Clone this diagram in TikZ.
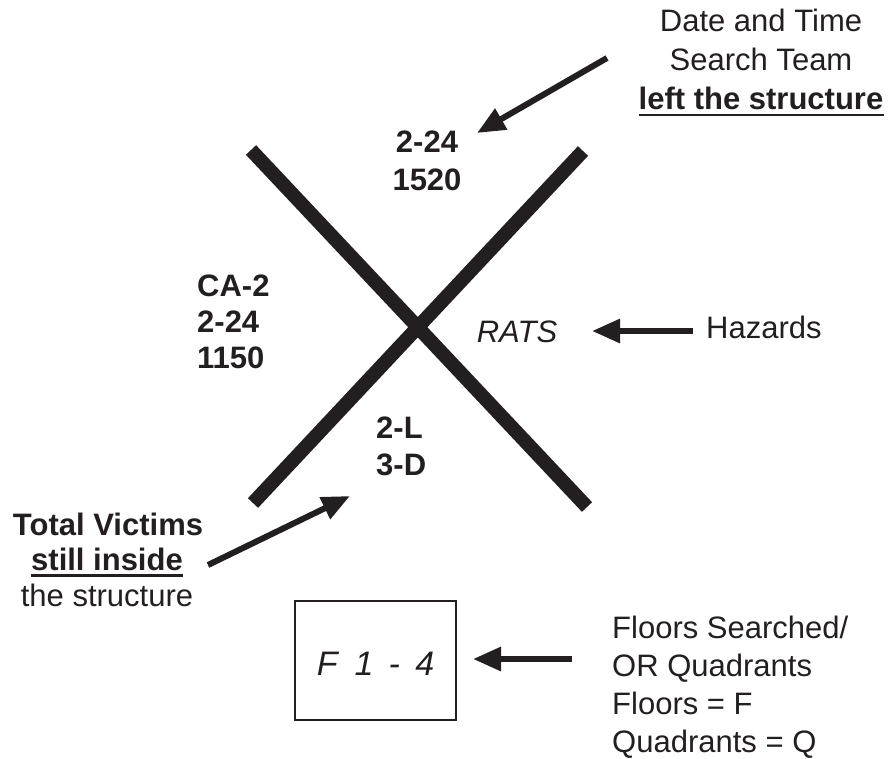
\documentclass[tikz,border=0pt]{standalone}
\usepackage{fontspec}
\setmainfont{Liberation Sans}
\usetikzlibrary{arrows.meta}
\definecolor{ink}{HTML}{231F20}
\newcommand\bigtxt{\fontsize{31}{38}\selectfont}
\begin{document}
\begin{tikzpicture}[x=1pt,y=-1pt,
  lbl/.style={inner sep=0pt,font=\bigtxt,text=ink},
  blbl/.style={lbl,font=\bigtxt\bfseries},
  ilbl/.style={lbl,font=\bigtxt\itshape},
  xbar/.style={draw=ink,line width=14pt,line cap=butt},
  pointer/.style={draw=ink,line width=6pt,-{Triangle[length=28pt,width=23pt]}},
  uline/.style={draw=ink,line width=2.5pt}]
\useasboundingbox (0,0) rectangle (890,758);
% the X
\coordinate (x1a) at (251,150);
\coordinate (x1b) at (587,507);
\coordinate (x2a) at (583,151);
\coordinate (x2b) at (253,503);
\draw[xbar] (x1a) -- (x1b);
\draw[xbar] (x2a) -- (x2b);
% top right
\node[lbl,anchor=base] (dt1) at (761,31) {Date and Time};
\node[lbl,anchor=base] (dt2) at (761,70) {Search Team};
\node[blbl,anchor=base] (dt3) at (761,109) {left the structure};
\draw[uline] ([yshift=-6pt]dt3.base west) -- ([yshift=-6pt]dt3.base east);
% top quadrant
\node[blbl,anchor=base] (tq1) at (427,152) {2-24};
\node[blbl,anchor=base] (tq2) at (427,190) {1520};
% left quadrant
\node[blbl,anchor=base west] (lq1) at (197,296) {CA-2};
\node[blbl,anchor=base west] (lq2) at (197,332) {2-24};
\node[blbl,anchor=base west] (lq3) at (197,368) {1150};
% right quadrant
\node[ilbl,anchor=base] (rats) at (517,342) {RATS};
\node[lbl,anchor=base west] (haz) at (706,338) {Hazards};
% bottom quadrant
\node[blbl,anchor=base west] (bq1) at (376,438) {2-L};
\node[blbl,anchor=base west] (bq2) at (376,475) {3-D};
% bottom left
\node[blbl,anchor=base] (tv1) at (108,535) {Total Victims};
\node[blbl,anchor=base] (tv2) at (107,570) {still inside};
\draw[uline] ([yshift=-5.5pt]tv2.base west) -- ([yshift=-5.5pt]tv2.base east);
\node[lbl,anchor=base] (tv3) at (107,606) {the structure};
% box
\node[draw=ink,line width=2.8pt,minimum width=161pt,minimum height=119pt,
  inner sep=0pt,text height=29pt,text depth=0pt,font=\fontsize{34}{38}\selectfont\itshape,text=ink]
  (box) at (375.5,660.5) {F\hspace{0.5em}1\hspace{0.45em}-\hspace{0.45em}4};
% bottom right
\node[lbl,anchor=base west] (fs1) at (612,638) {Floors Searched/};
\node[lbl,anchor=base west] (fs2) at (612,676) {OR Quadrants};
\node[lbl,anchor=base west] (fs3) at (612,714) {Floors = F};
\node[lbl,anchor=base west] (fs4) at (612,752) {Quadrants = Q};
% pointers
\coordinate (p1s) at (607,58);  \coordinate (p1e) at (477,133);
\coordinate (p2s) at (693,331); \coordinate (p2e) at (592,331);
\coordinate (p3s) at (208,565); \coordinate (p3e) at (350,496);
\coordinate (p4s) at (572,659); \coordinate (p4e) at (473,659);
\draw[pointer] (p1s) -- (p1e);
\draw[pointer] (p2s) -- (p2e);
\draw[pointer] (p3s) -- (p3e);
\draw[pointer] (p4s) -- (p4e);
\end{tikzpicture}
\end{document}
